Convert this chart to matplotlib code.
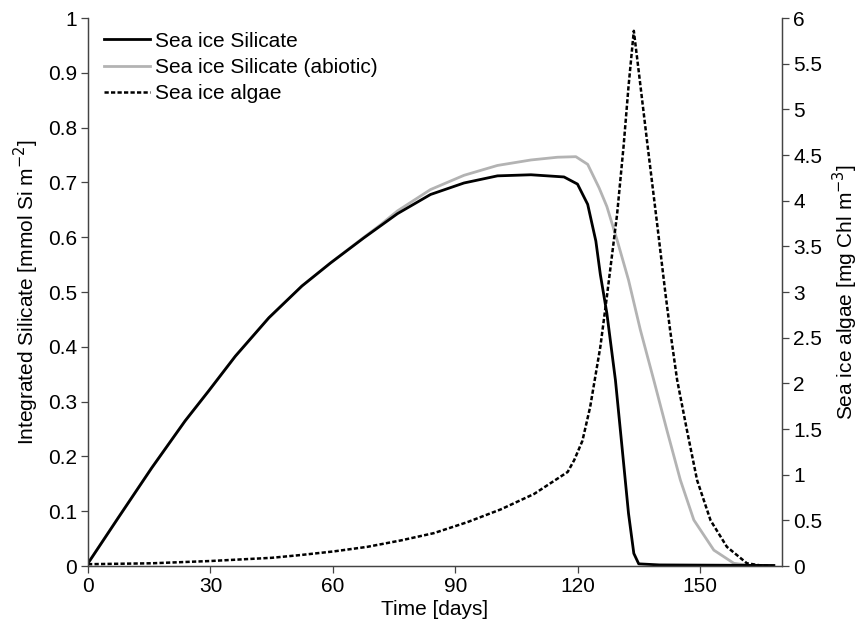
import numpy as np
import matplotlib.pyplot as plt

plt.rcParams['font.family'] = ['Liberation Sans', 'DejaVu Sans']
plt.rcParams['font.size'] = 15

# integrated silicate in sea ice [mmol Si m-2]
sil_days = [0, 7.4, 15.6, 23.8, 29.5, 36.1, 44.3, 52.4, 59.4, 67.6, 75.8,
            83.9, 92.1, 100.3, 108.5, 116.6, 119.9, 122.4, 124.4, 125.5,
            127.1, 129.2, 130.8, 132.4, 133.7, 134.9, 140, 168]
sil = [0.005, 0.088, 0.179, 0.265, 0.319, 0.383, 0.453, 0.511, 0.553, 0.599,
       0.643, 0.678, 0.699, 0.712, 0.714, 0.710, 0.697, 0.660, 0.593, 0.532,
       0.461, 0.339, 0.218, 0.096, 0.023, 0.004, 0.002, 0.001]

# abiotic run (no algal uptake)
abio_days = [0, 7.4, 15.6, 23.8, 29.5, 36.1, 44.3, 52.4, 59.4, 67.6, 71.7,
             75.8, 83.9, 92.1, 100.3, 108.5, 115, 119.5, 122.4, 125.2, 127.1,
             129.6, 132.4, 135.3, 138.6, 141.8, 145.1, 148.4, 153.3, 158.2,
             162, 168]
abio = [0.005, 0.088, 0.179, 0.265, 0.319, 0.383, 0.453, 0.511, 0.553, 0.600,
        0.623, 0.648, 0.687, 0.713, 0.731, 0.741, 0.746, 0.747, 0.733, 0.690,
        0.656, 0.595, 0.522, 0.431, 0.339, 0.248, 0.157, 0.084, 0.029, 0.005,
        0.001, 0.0]

# sea ice algae [mg Chl m-3]
alg_days = [0, 15.6, 30, 45, 52, 60.2, 68.4, 76.6, 84.7, 92.9, 101.1, 109.3,
            117.5, 119.1, 121.1, 123, 125.5, 127.1, 129.6, 131.2, 132.4, 133.7,
            135, 137, 139.4, 141.4, 142.6, 144.3, 146.7, 149.2, 152.5, 156.5,
            161.4, 165, 168]
alg = [0.02, 0.03, 0.055, 0.09, 0.12, 0.16, 0.21, 0.28, 0.36, 0.48, 0.62,
       0.79, 1.03, 1.16, 1.37, 1.74, 2.40, 2.95, 3.85, 4.60, 5.25, 5.86,
       5.38, 4.63, 3.75, 3.00, 2.58, 2.04, 1.49, 0.94, 0.50, 0.21, 0.03,
       0.005, 0.0]

fig = plt.figure(figsize=(8.62, 6.33), dpi=100)
ax = fig.add_axes([0.1021, 0.1058, 0.8051, 0.8657])
ax2 = ax.twinx()

l2, = ax.plot(abio_days, abio, color='#b3b3b3', lw=2.0, solid_joinstyle='round',
              label='Sea ice Silicate (abiotic)')
l1, = ax.plot(sil_days, sil, color='black', lw=2.0, solid_joinstyle='round',
              label='Sea ice Silicate')
l3, = ax2.plot(alg_days, alg, color='black', lw=1.8, ls=(0, (1.7, 0.9)),
               label='Sea ice algae')

ax.set_xlim(0, 170)
ax.set_ylim(0, 1)
ax2.set_ylim(0, 6)
ax.set_xticks([0, 30, 60, 90, 120, 150])
yl = np.arange(0, 1.01, 0.1)
ax.set_yticks(yl)
ax.set_yticklabels(['%g' % round(v, 1) for v in yl])
yr = np.arange(0, 6.01, 0.5)
ax2.set_yticks(yr)
ax2.set_yticklabels(['%g' % v for v in yr])

for a in (ax, ax2):
    a.spines['top'].set_visible(False)
    for s in ('left', 'right', 'bottom'):
        a.spines[s].set_color('#444444')
        a.spines[s].set_linewidth(0.9)
    a.tick_params(direction='out', length=5, width=0.9, color='#444444',
                  labelsize=15, pad=3)

ax.set_xlabel('Time [days]', fontsize=15, labelpad=3)
ax.set_ylabel('Integrated Silicate [mmol Si m$^{-2}$]', fontsize=15, labelpad=5)
ax2.set_ylabel('Sea ice algae [mg Chl m$^{-3}$]', fontsize=15, labelpad=6)

ax.legend(handles=[l1, l2, l3], loc='upper left', bbox_to_anchor=(0.023, 0.975),
          frameon=False, borderpad=0, borderaxespad=0, handlelength=2.2,
          handletextpad=0.25, labelspacing=0.35, fontsize=15)

fig.savefig('out.png', dpi=100)
